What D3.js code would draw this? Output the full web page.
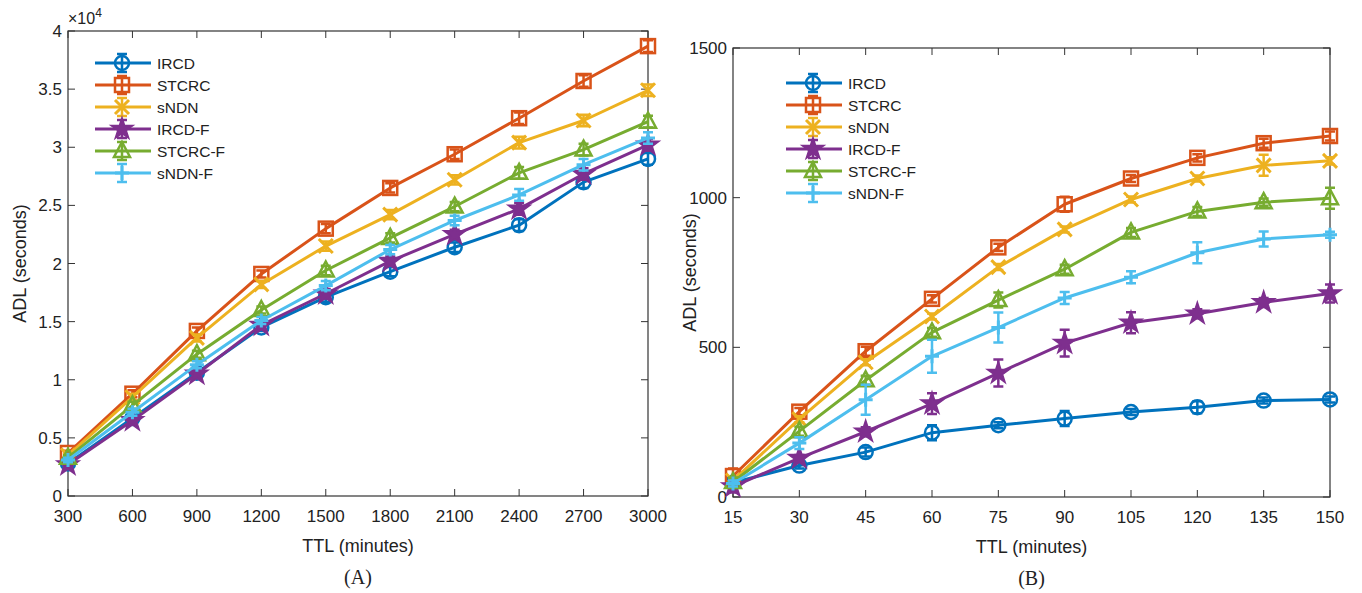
<!DOCTYPE html>
<html lang="en">
<head>
  <meta charset="UTF-8">
  <title>ADL vs TTL</title>
  <script src="https://d3js.org/d3.v7.min.js"></script>
  <style>
    body { margin: 0; background: #fff; }
    svg text { font-family: "Liberation Sans", Arial, sans-serif; fill: #222; }
    .caption { font-family: "Liberation Serif", "Times New Roman", serif !important; }
  </style>
</head>
<body>
<svg id="chart" width="1362" height="593"></svg>
<script>
// --- data ---
const seriesNames = ["IRCD", "STCRC", "sNDN", "IRCD-F", "STCRC-F", "sNDN-F"];
const colors = ["#0072BD", "#D95319", "#EDB120", "#7E2F8E", "#77AC30", "#4DBEEE"];
const markers = ["circle", "square", "x", "star", "triangle", "plus"];

// chart A (values x10^4 seconds)
const ttlA = [300, 600, 900, 1200, 1500, 1800, 2100, 2400, 2700, 3000];
const yTicksA = [0, 0.5, 1, 1.5, 2, 2.5, 3, 3.5, 4];
const ircdA   = [0.28, 0.67, 1.06, 1.45, 1.71, 1.93, 2.14, 2.33, 2.70, 2.90];
const stcrcA  = [0.37, 0.88, 1.42, 1.91, 2.30, 2.65, 2.94, 3.25, 3.57, 3.87];
const sndnA   = [0.35, 0.85, 1.36, 1.82, 2.15, 2.42, 2.72, 3.04, 3.23, 3.49];
const ircdFA  = [0.27, 0.65, 1.05, 1.47, 1.74, 2.02, 2.25, 2.47, 2.77, 3.02];
const stcrcFA = [0.33, 0.78, 1.22, 1.60, 1.94, 2.22, 2.49, 2.78, 2.98, 3.22];
const sndnFA  = [0.31, 0.72, 1.13, 1.51, 1.81, 2.12, 2.37, 2.59, 2.85, 3.08];
const errA = [0.02, 0.03, 0.03, 0.03, 0.04, 0.04, 0.04, 0.05, 0.05, 0.05];

// chart B (seconds)
const ttlB = [15, 30, 45, 60, 75, 90, 105, 120, 135, 150];
const yTicksB = [0, 500, 1000, 1500];
const ircdB   = [48, 105, 150, 215, 240, 262, 284, 300, 322, 326];
const stcrcB  = [70, 285, 487, 662, 834, 978, 1064, 1133, 1182, 1206];
const sndnB   = [55, 260, 450, 603, 768, 894, 994, 1064, 1108, 1123];
const ircdFB  = [35, 130, 218, 312, 414, 514, 582, 612, 650, 680];
const stcrcFB = [50, 220, 390, 550, 658, 761, 884, 954, 985, 998];
const sndnFB  = [45, 180, 325, 470, 566, 665, 734, 816, 862, 876];
const ircdErrB   = [10, 10, 15, 25, 10, 25, 10, 20, 10, 10];
const stcrcErrB  = [25, 12, 15, 12, 12, 25, 12, 12, 15, 15];
const sndnErrB   = [10, 10, 10, 10, 10, 10, 10, 10, 35, 12];
const ircdFErrB  = [20, 10, 15, 35, 45, 45, 35, 15, 15, 30];
const stcrcFErrB = [15, 15, 15, 15, 25, 15, 15, 15, 12, 35];
const sndnFErrB  = [10, 20, 50, 55, 50, 20, 20, 35, 25, 10];

const svg = d3.select("#chart");

function drawMarker(g, type, color) {
  const s = 7;
  if (type === "circle") {
    g.append("circle").attr("r", s).attr("fill", "none").attr("stroke", color).attr("stroke-width", 2.5);
  } else if (type === "square") {
    g.append("rect").attr("x", -s).attr("y", -s).attr("width", 2 * s).attr("height", 2 * s)
      .attr("fill", "none").attr("stroke", color).attr("stroke-width", 2.5);
  } else if (type === "x") {
    g.append("path").attr("d", `M${-s},${-s}L${s},${s}M${-s},${s}L${s},${-s}`)
      .attr("stroke", color).attr("stroke-width", 3);
  } else if (type === "plus") {
    g.append("path").attr("d", `M${-s},0L${s},0M0,${-s}L0,${s}`)
      .attr("stroke", color).attr("stroke-width", 3);
  } else if (type === "star") {
    g.append("path").attr("d", d3.symbol(d3.symbolStar, 150)())
      .attr("fill", color).attr("stroke", color).attr("stroke-width", 1.5);
  } else if (type === "triangle") {
    g.append("path").attr("d", `M0,${-s - 2}L${s + 1},${s - 1}L${-s - 1},${s - 1}Z`)
      .attr("fill", "none").attr("stroke", color).attr("stroke-width", 2.5);
  }
}

function drawPanel(cfg) {
  const { left, right, top, bottom, xVals, yMax, yTicks, series, errs, yFmt, legend, caption } = cfg;
  const x = d3.scaleLinear().domain([xVals[0], xVals[xVals.length - 1]]).range([left, right]);
  const y = d3.scaleLinear().domain([0, yMax]).range([bottom, top]);
  const g = svg.append("g");

  // ticks (inward, all four sides)
  const tk = 7;
  xVals.forEach(v => {
    g.append("line").attr("x1", x(v)).attr("x2", x(v)).attr("y1", bottom).attr("y2", bottom - tk).attr("stroke", "#333");
    g.append("line").attr("x1", x(v)).attr("x2", x(v)).attr("y1", top).attr("y2", top + tk).attr("stroke", "#333");
    g.append("text").attr("x", x(v)).attr("y", bottom + 26).attr("text-anchor", "middle")
      .attr("font-size", 17).text(v);
  });
  yTicks.forEach(v => {
    g.append("line").attr("x1", left).attr("x2", left + tk).attr("y1", y(v)).attr("y2", y(v)).attr("stroke", "#333");
    g.append("line").attr("x1", right).attr("x2", right - tk).attr("y1", y(v)).attr("y2", y(v)).attr("stroke", "#333");
    g.append("text").attr("x", left - 6).attr("y", y(v) + 6).attr("text-anchor", "end")
      .attr("font-size", 17).text(yFmt(v));
  });
  g.append("rect").attr("x", left).attr("y", top).attr("width", right - left).attr("height", bottom - top)
    .attr("fill", "none").attr("stroke", "#333").attr("stroke-width", 1.2);

  const line = d3.line().x((d, i) => x(xVals[i])).y(d => y(d));
  series.forEach((vals, si) => {
    const c = colors[si];
    const sg = g.append("g");
    sg.append("path").datum(vals).attr("d", line).attr("fill", "none")
      .attr("stroke", c).attr("stroke-width", 3).attr("stroke-linejoin", "round");
    vals.forEach((v, i) => {
      const e = errs[si][i];
      const px = x(xVals[i]);
      sg.append("path")
        .attr("d", `M${px},${y(v - e)}L${px},${y(v + e)}M${px - 5},${y(v - e)}L${px + 5},${y(v - e)}M${px - 5},${y(v + e)}L${px + 5},${y(v + e)}`)
        .attr("stroke", c).attr("stroke-width", 2.5).attr("fill", "none");
      const mg = sg.append("g").attr("transform", `translate(${px},${y(v)})`);
      drawMarker(mg, markers[si], c);
    });
  });

  // legend
  seriesNames.forEach((name, si) => {
    const ly = legend.y + si * legend.dy;
    const c = colors[si];
    g.append("line").attr("x1", legend.x).attr("x2", legend.x + 56).attr("y1", ly).attr("y2", ly)
      .attr("stroke", c).attr("stroke-width", 3);
    const mx = legend.x + 27;
    g.append("path").attr("d", `M${mx},${ly - 9}L${mx},${ly + 9}M${mx - 5},${ly - 9}L${mx + 5},${ly - 9}M${mx - 5},${ly + 9}L${mx + 5},${ly + 9}`)
      .attr("stroke", c).attr("stroke-width", 2.5);
    drawMarker(g.append("g").attr("transform", `translate(${mx},${ly})`), markers[si], c);
    g.append("text").attr("x", legend.x + 62).attr("y", ly + 5.5).attr("font-size", 15.5).text(name);
  });

  // axis labels
  const cx = (left + right) / 2;
  g.append("text").attr("x", cx).attr("y", bottom + 56).attr("text-anchor", "middle")
    .attr("font-size", 18).text("TTL (minutes)");
  g.append("text").attr("transform", `translate(${cfg.yLabelX},${(top + bottom) / 2}) rotate(-90)`)
    .attr("text-anchor", "middle").attr("font-size", 18).text("ADL (seconds)");
  g.append("text").attr("class", "caption").attr("x", cx).attr("y", bottom + 88).attr("text-anchor", "middle")
    .attr("font-size", 20).text(caption);
  return g;
}

const gA = drawPanel({
  left: 68, right: 648, top: 31, bottom: 496,
  xVals: ttlA, yMax: 4, yTicks: yTicksA,
  series: [ircdA, stcrcA, sndnA, ircdFA, stcrcFA, sndnFA],
  errs: [errA, errA, errA, errA, errA, errA],
  yFmt: v => String(v),
  legend: { x: 95, y: 63, dy: 22 },
  caption: "(A)", yLabelX: 26
});
// exponent label
const expo = gA.append("text").attr("x", 68).attr("y", 24).attr("font-size", 16);
expo.append("tspan").text("\u00d710");
expo.append("tspan").attr("dy", -7).attr("font-size", 12).text("4");

drawPanel({
  left: 733, right: 1330, top: 48, bottom: 497,
  xVals: ttlB, yMax: 1500, yTicks: yTicksB,
  series: [ircdB, stcrcB, sndnB, ircdFB, stcrcFB, sndnFB],
  errs: [ircdErrB, stcrcErrB, sndnErrB, ircdFErrB, stcrcFErrB, sndnFErrB],
  yFmt: v => String(v),
  legend: { x: 786, y: 83, dy: 22 },
  caption: "(B)", yLabelX: 696
});
</script>
</body>
</html>
